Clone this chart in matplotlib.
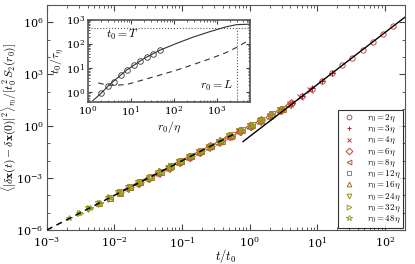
import matplotlib
matplotlib.use('Agg')
import matplotlib.pyplot as plt
import numpy as np
from matplotlib.ticker import FixedLocator, NullFormatter, LogLocator

plt.rcParams['mathtext.fontset'] = 'cm'
plt.rcParams['font.family'] = 'serif'
plt.rcParams['font.serif'] = ['DejaVu Serif']

# initial separations r0/eta and their time scales t0/tau_eta (inset circles)
r0_vals = [2, 3, 4, 6, 8, 12, 16, 24, 32, 48]
t0_vals = [0.9, 1.8, 2.7, 5.2, 8.1, 14, 20, 30, 39, 56]

# sampling times t/tau_eta shared by all runs
t_abs = [0.12, 0.17, 0.24, 0.34, 0.48, 0.68, 0.96, 1.35, 1.9, 2.7, 3.8,
         5.4, 7.6, 10.7, 15, 21, 30, 43, 60, 85, 120]

# normalised mean squared separation, one list per r0
msd = {
    2: [0.0179, 0.0356, 0.0711, 0.142, 0.283, 0.565, 1.13, 2.25, 4.7, 9.8,
        21.9, 52, 140, 400, 1150, 3200, 9100, 25500, 72000, 2.05e5, 5.8e5],
    3: [0.00447, 0.00891, 0.0178, 0.0355, 0.0708, 0.141, 0.282, 0.562, 1.12,
        2.24, 4.7, 9.6, 21.9, 54, 150, 422, 1190],
    4: [0.00199, 0.00396, 0.00791, 0.0158, 0.0315, 0.0628, 0.125, 0.250,
        0.499, 0.995, 1.99, 3.96, 8.5, 19, 47, 125],
    6: [5.35e-4, 1.07e-3, 2.13e-3, 4.25e-3, 8.47e-3, 0.0169, 0.0337, 0.0673,
        0.134, 0.268, 0.535, 1.07, 2.13, 4.27, 9.1, 20.4],
    8: [2.21e-4, 4.41e-4, 8.79e-4, 1.75e-3, 3.50e-3, 6.98e-3, 0.0139, 0.0278,
        0.0555, 0.111, 0.221, 0.441, 0.879, 1.75, 3.50, 7.4, 16.2],
    12: [7.38e-5, 1.47e-4, 2.94e-4, 5.86e-4, 1.17e-3, 2.33e-3, 4.66e-3,
         9.29e-3, 0.0185, 0.0370, 0.0738, 0.147, 0.294, 0.586, 1.17, 2.33,
         4.9, 10.0],
    16: [3.61e-5, 7.21e-5, 1.44e-4, 2.87e-4, 5.73e-4, 1.14e-3, 2.28e-3,
         4.55e-3, 9.08e-3, 0.0181, 0.0361, 0.0721, 0.144, 0.287, 0.573, 1.14,
         2.28, 4.8, 9.9],
    24: [1.61e-5, 3.21e-5, 6.40e-5, 1.28e-4, 2.55e-4, 5.08e-4, 1.01e-3,
         2.02e-3, 4.04e-3, 8.05e-3, 0.0161, 0.0321, 0.0640, 0.128, 0.255,
         0.508, 1.01, 2.02, 4.1, 8.7],
    32: [9.51e-6, 1.90e-5, 3.78e-5, 7.55e-5, 1.51e-4, 3.01e-4, 6.00e-4,
         1.20e-3, 2.39e-3, 4.76e-3, 9.51e-3, 0.0190, 0.0378, 0.0755, 0.151,
         0.301, 0.600, 1.20, 2.39, 5.0, 10.2],
    48: [4.61e-6, 9.20e-6, 1.84e-5, 3.66e-5, 7.31e-5, 1.46e-4, 2.91e-4,
         5.81e-4, 1.16e-3, 2.31e-3, 4.61e-3, 9.20e-3, 0.0184, 0.0366, 0.0731,
         0.146, 0.291, 0.581, 1.16, 2.31, 4.9],
}

markers = ['o', '+', 'x', 'D', '<', 's', '^', 'v', '>', '*']
colors = ['#c44a44', '#a8283c', '#c03838', '#c04830', '#b45438', '#c07440',
          '#a86c24', '#a08a14', '#9a9a18', '#8ca828']

# reference laws: ballistic t^2 and Richardson g t^3
ball_t = [1e-3, 0.6]
ball_y = [1e-6, 0.36]
rich_t = [0.8, 220]
rich_y = [0.128, 2.66e6]

# inset curves
in_solid_r = [1.3, 2, 3.2, 7.9, 19.5, 47, 115, 280, 690, 1660, 2900, 5900]
in_solid_t = [0.45, 0.9, 2.1, 8.3, 24.5, 56, 107, 195, 330, 525, 645, 675]
in_dash_r = [1.74, 2.5, 3.9, 7.9, 19.5, 47, 115, 280, 690, 1660, 3160, 5900]
in_dash_t = [2.45, 2.1, 1.95, 2.1, 3.3, 5.2, 8.3, 14.1, 24.5, 44.7, 79, 155]
T_val = 490
L_val = 2900

fig = plt.figure(figsize=(4.15, 2.64), dpi=100)
ax = fig.add_axes([0.113, 0.129, 0.863, 0.852])

ax.plot(ball_t, ball_y, color='black', ls=(0, (4, 3)), lw=1.1, zorder=3)
ax.plot(rich_t, rich_y, color='black', ls='-', lw=1.0, zorder=3)

t_abs = np.array(t_abs)
for r0, t0, m, c in zip(r0_vals, t0_vals, markers, colors):
    y = np.array(msd[r0])
    tau = t_abs[:len(y)] / t0
    ax.plot(tau, y, ls='none', marker=m, ms=3.8 if m != '*' else 4.4,
            mfc='none', mec=c, mew=0.7, label=r'$r_0 = %d\eta$' % r0, zorder=2)

ax.set_xscale('log')
ax.set_yscale('log')
ax.set_xlim(1e-3, 200)
ax.set_ylim(1e-6, 1e7)
ax.set_yticks([1e-6, 1e-3, 1, 1e3, 1e6])
ax.yaxis.set_minor_locator(FixedLocator([10.0 ** k for k in range(-6, 8)]))
ax.yaxis.set_minor_formatter(NullFormatter())
ax.xaxis.set_minor_locator(LogLocator(base=10, subs=np.arange(2, 10), numticks=20))
ax.tick_params(which='both', direction='in', top=True, right=True,
               labelsize=8, color='#444444', pad=2.5)
ax.tick_params(axis='x', which='both', pad=4)
ax.tick_params(which='major', length=4)
ax.tick_params(which='minor', length=2)
for s in ax.spines.values():
    s.set_color('#555555')
    s.set_linewidth(0.8)
ax.set_xlabel(r'$t/t_0$', fontsize=9)
ax.xaxis.set_label_coords(0.5, -0.078)
ax.set_ylabel(r'$\langle|\delta\mathbf{x}(t)-\delta\mathbf{x}(0)|^2\rangle_{r_0}/[t_0^2\,S_2(r_0)]$',
              fontsize=8.3)
ax.yaxis.set_label_coords(-0.078, 0.5)

leg = ax.legend(loc='lower right', fontsize=6.5, frameon=True, fancybox=False,
                edgecolor='black', borderaxespad=0.25, handlelength=2.0,
                handleheight=0.4, handletextpad=0.9, labelspacing=0.0,
                borderpad=0.3, markerscale=0.9)
leg.get_frame().set_linewidth(0.8)

# inset
axi = fig.add_axes([0.212, 0.614, 0.39, 0.31])
axi.plot(in_solid_r, in_solid_t, color='#333333', lw=0.8)
axi.plot(in_dash_r, in_dash_t, color='#333333', lw=0.8, ls=(0, (5, 4)))
axi.plot(r0_vals, t0_vals, ls='none', marker='o', ms=4, mfc='none',
         mec='#333333', mew=0.6)
axi.axhline(T_val, color='#555555', ls=':', lw=0.8)
axi.plot([L_val, L_val], [0.4, T_val], color='#555555', ls=':', lw=0.8)
axi.set_xscale('log')
axi.set_yscale('log')
axi.set_xlim(1, 5900)
axi.set_ylim(0.4, 1000)
axi.text(2.7, 250, r'$t_0 = T$', fontsize=8.5, ha='left', va='center')
axi.text(2350, 1.8, r'$r_0 = L$', fontsize=8.5, ha='right', va='center')
axi.tick_params(which='both', direction='in', top=True, right=True,
                labelsize=7.5, color='#444444', pad=2)
axi.tick_params(which='major', length=3)
axi.tick_params(which='minor', length=1.5)
for s in axi.spines.values():
    s.set_color('#555555')
    s.set_linewidth(1.2)
axi.set_xlabel(r'$r_0/\eta$', fontsize=8.5, labelpad=0)
axi.set_ylabel(r'$t_0/\tau_\eta$', fontsize=8.5, labelpad=0)

fig.savefig('out.png', dpi=100)
